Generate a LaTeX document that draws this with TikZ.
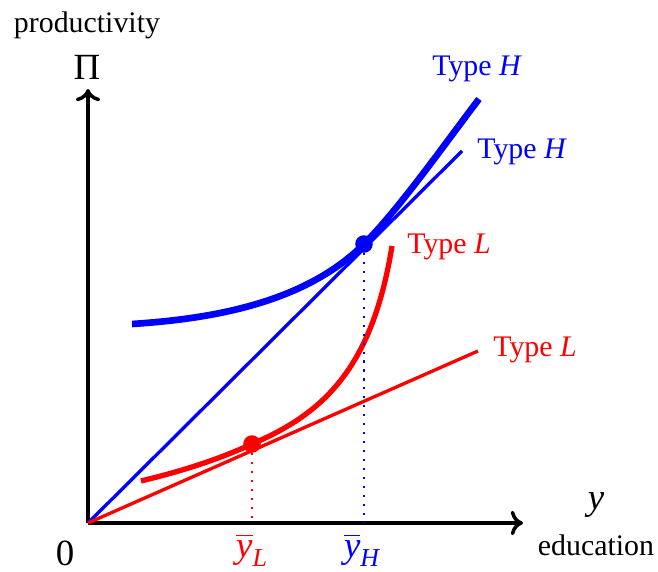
\documentclass[tikz,border=0pt]{standalone}
\usepackage{amsmath}
\usepackage{fontspec}
\setmainfont{Liberation Serif}
\usetikzlibrary{arrows.meta}

\begin{document}
\begin{tikzpicture}[x=0.02cm, y=0.02cm,
  font=\fontsize{17}{20}\selectfont,
  axis/.style={line width=2pt, -{To[length=7pt,width=14pt]}},
  ray/.style={line width=1.9pt},
  curv/.style={line width=3.8pt},
  drop/.style={line width=1.2pt, dash pattern=on 1.2pt off 3.9pt},
  spot/.style={circle, inner sep=0pt, minimum size=10pt},
  big/.style={font=\fontsize{21}{24}\selectfont},
  lbl/.style={inner sep=0pt, anchor=west}]
\useasboundingbox (-88,-48) rectangle (570,523);
\coordinate (O) at (0,0);
\coordinate (xend) at (435,0);
\coordinate (yend) at (0,434);
\coordinate (rH) at (374,372);
\coordinate (rL) at (390,172);
\draw[axis] (O) -- (xend);
\draw[axis] (O) -- (yend);
\node[big] (pi) at (-1,456) {Π};
\node (prod) at (-1,498) {productivity};
\node[big] (yvar) at (508,18) {\textit{y}};
\node (educ) at (508,-22) {education};
\node[big] (zero) at (-23,-30) {0};
\draw[ray, blue] (O) -- (rH);
\draw[ray, red] (O) -- (rL);
\node[spot, fill=blue] (dH) at (276,279) {};
\node[spot, fill=red] (dL) at (164,79) {};
\draw[curv, blue] (44,199) .. controls (121,204) and (216,219) .. (dH.center)
  .. controls (311,314) and (356,378) .. (391,424);
\draw[curv, red, line width=3pt] (53,42) .. controls (90,51) and (127,62) .. (dL.center)
  .. controls (234,109) and (284,153) .. (304,277);
\draw[drop, blue] (dH.center) -- (dH.center |- O);
\draw[drop, red] (dL.center) -- (dL.center |- O);
\node[big, blue] (barH) at (274,-27) {$\overline{\textit{y}}_{\textit{H}}$};
\node[big, red] (barL) at (164,-27) {$\overline{\textit{y}}_{\textit{L}}$};
\node[lbl, blue] (tH1) at (344,454) {Type \textit{H}};
\node[lbl, blue] (tH2) at (389,371) {Type \textit{H}};
\node[lbl, red] (tL1) at (319,276) {Type \textit{L}};
\node[lbl, red] (tL2) at (405,173) {Type \textit{L}};
\end{tikzpicture}
\end{document}
